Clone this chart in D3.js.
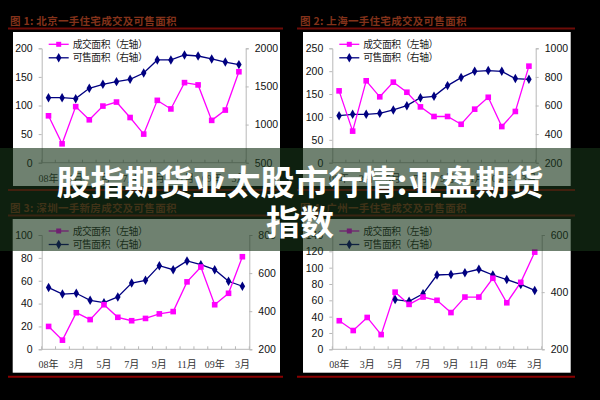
<!DOCTYPE html>
<html><head><meta charset="utf-8">
<script src="https://cdn.jsdelivr.net/npm/d3@7/dist/d3.min.js"></script>
<style>
html,body{margin:0;padding:0;background:#000;}
svg{display:block;}
</style></head>
<body>
<svg id="c" width="600" height="400"></svg>
<script>
// ---- data ----
const months = ["08年","2月","3月","4月","5月","6月","7月","8月","9月","10月","11月","12月","09年","2月","3月"];
const tickLabels = ["08年","3月","5月","7月","9月","11月","09年","3月"];
const tickIdx = [0,2,4,6,8,10,12,14];
const legendNames = ["成交面积（左轴）","可售面积（右轴）"];
const titles = ["图 1: 北京一手住宅成交及可售面积","图 2: 上海一手住宅成交及可售面积","图 3: 深圳一手新房成交及可售面积","图 4: 广州一手住宅成交及可售面积"];
const bjSales = [82,33,98,75,99,106,79,50,109,94,140,136,74,92,159];
const bjStock = [1353,1353,1340,1475,1528,1563,1593,1676,1847,1847,1912,1899,1860,1820,1786];
const shSales = [157,69,179,144,176,154,122,101,101,84,117,143,79,112,211];
const shStock = [529,538,538,545,569,599,655,664,739,795,839,844,839,788,783];
const szSales = [20,8,32,26,39,28,25,27,31,33,59,72,39,49,81];
const szStock = [524,490,494,457,445,475,548,562,639,618,664,644,618,557,531];
const gzSales = [35,23,39,18,70,55,64,60,45,64,64,87,57,82,119];
const gzStock = [null,null,null,null,374,368,394,460,462,468,480,460,444,427,406];
const leftTicks = [[0,50,100,150,200],[0,50,100,150,200,250],[0,20,40,60,80,100],[0,20,40,60,80,100,120,140]];
const rightTicks = [[500,1000,1500,2000],[200,400,600,800,1000],[200,400,600,800],[200,400,600]];
const banner = ["股指期货亚太股市行情:亚盘期货","指数"];

// ---- layout ----
const panels = [
  {sales:bjSales, stock:bjStock, box:[13,32,280,186], L:41.7, R:245.7, y0:162.7, y1:48.3, tx:10, ty:25, line:[8,283]},
  {sales:shSales, stock:shStock, box:[303,32,570.7,186], L:332.3, R:535.7, y0:162.7, y1:48.3, tx:300, ty:25, line:[297,575]},
  {sales:szSales, stock:szStock, box:[12.7,219,280,372.7], L:41.7, R:249.3, y0:349.3, y1:235, tx:10, ty:212, line:[8,283]},
  {sales:gzSales, stock:gzStock, box:[303,219,570.7,372.7], L:332.3, R:541.7, y0:349.3, y1:235, tx:300, ty:212, line:[297,575]}
];

const svg = d3.select("#c");
svg.append("rect").attr("width",600).attr("height",400).attr("fill","#000");
const PINK="#ff00ff", NAVY="#000080", AX="#b8b8b8";
const cjkSerif = "'Liberation Serif','Noto Sans CJK SC',serif";
const cjk = "'Noto Sans CJK SC',sans-serif";

panels.forEach((p,i)=>{
  const g = svg.append("g");
  g.append("text").attr("x",p.tx).attr("y",p.ty).text(titles[i])
    .attr("font-family",cjk).attr("font-size",10.5).attr("font-weight","bold")
    .attr("fill","#83321a").attr("letter-spacing",0.3);
  g.append("line").attr("x1",p.line[0]).attr("x2",p.line[1]).attr("y1",p.ty+3.5).attr("y2",p.ty+3.5)
    .attr("stroke","#6e0c08").attr("stroke-width",2);
  const [bx0,by0,bx1,by1]=p.box;
  g.append("rect").attr("x",bx0).attr("y",by0).attr("width",bx1-bx0).attr("height",by1-by0).attr("fill","#fff");
  g.append("line").attr("x1",p.line[0]).attr("x2",p.line[1]).attr("y1",by1+4).attr("y2",by1+4)
    .attr("stroke","#8a0000").attr("stroke-width",2);

  const x = d3.scalePoint().domain(d3.range(months.length)).range([p.L,p.R]).padding(0.5);
  const lt = leftTicks[i], rt = rightTicks[i];
  const yl = d3.scaleLinear().domain([lt[0],lt[lt.length-1]]).range([p.y0,p.y1]);
  const yr = d3.scaleLinear().domain([rt[0],rt[rt.length-1]]).range([p.y0,p.y1]);
  const step = x.step();

  const la = g.append("g").attr("transform",`translate(${p.L},0)`)
    .call(d3.axisLeft(yl).tickValues(lt).tickSize(3).tickPadding(6).tickFormat(d3.format("d")));
  const ra = g.append("g").attr("transform",`translate(${p.R},0)`)
    .call(d3.axisRight(yr).tickValues(rt).tickSize(3).tickPadding(6).tickFormat(d3.format("d")));
  [la,ra].forEach(a=>{
    a.select(".domain").attr("stroke",AX);
    a.selectAll(".tick line").attr("stroke",AX);
    a.selectAll("text").attr("font-family","'Liberation Sans',Arial,sans-serif").attr("font-size",10.5).attr("fill","#111");
  });
  const xa = g.append("g").attr("transform",`translate(0,${p.y0})`);
  xa.append("line").attr("x1",p.L).attr("x2",p.R).attr("stroke",AX);
  const bounds = d3.range(months.length+1).map(k=>p.L+k*step);
  xa.selectAll("line.t").data(bounds).join("line").attr("class","t")
    .attr("x1",d=>d).attr("x2",d=>d).attr("y1",0).attr("y2",-3).attr("stroke",AX);
  xa.selectAll("text").data(tickIdx).join("text")
    .attr("x",d=>x(d)).attr("y",19).attr("text-anchor","middle")
    .attr("font-family",cjkSerif).attr("font-size",10).attr("fill","#333")
    .text((d,k)=>tickLabels[k]);

  const mk = (arr,sc)=>d3.line().defined(d=>d!=null).x((d,k)=>x(k)).y(d=>sc(d))(arr);
  g.append("path").attr("d",mk(p.stock,yr)).attr("fill","none").attr("stroke",NAVY).attr("stroke-width",1.3);
  g.append("path").attr("d",mk(p.sales,yl)).attr("fill","none").attr("stroke",PINK).attr("stroke-width",1.3);
  const dia = d3.symbol().type(d3.symbolDiamond).size(26);
  g.selectAll("path.sd").data(p.stock.map((v,k)=>[k,v]).filter(d=>d[1]!=null)).join("path").attr("class","sd")
    .attr("d",dia).attr("transform",d=>`translate(${x(d[0])},${yr(d[1])})`).attr("fill",NAVY);
  g.selectAll("rect.ss").data(p.sales.map((v,k)=>[k,v])).join("rect").attr("class","ss")
    .attr("x",d=>x(d[0])-2.8).attr("y",d=>yl(d[1])-2.8).attr("width",5.6).attr("height",5.6).attr("fill",PINK);

  const lx = p.L+7, ly = p.y1-4;
  [[PINK,0],[NAVY,1]].forEach(([c,k])=>{
    const yy = ly + k*13.5;
    g.append("line").attr("x1",lx).attr("x2",lx+20).attr("y1",yy).attr("y2",yy).attr("stroke",c).attr("stroke-width",1.3);
    if(k===0) g.append("rect").attr("x",lx+10-2.5).attr("y",yy-2.5).attr("width",5).attr("height",5).attr("fill",c);
    else g.append("path").attr("d",dia).attr("transform",`translate(${lx+10},${yy})`).attr("fill",c);
    g.append("text").attr("x",lx+24).attr("y",yy+3.6).text(legendNames[k])
      .attr("font-family",cjk).attr("font-size",9.8).attr("fill","#222")
      .attr("textLength",75).attr("lengthAdjust","spacing");
  });
});

svg.append("rect").attr("x",0).attr("y",148).attr("width",600).attr("height",103).attr("fill","rgba(22,52,24,0.62)");
svg.selectAll("text.bn").data(banner).join("text").attr("class","bn")
  .attr("x",300).attr("y",(d,k)=>195+k*40).attr("text-anchor","middle")
  .attr("font-family",cjk).attr("font-weight","bold").attr("font-size",34)
  .attr("fill","#fff").text(d=>d);
</script>
</body></html>
